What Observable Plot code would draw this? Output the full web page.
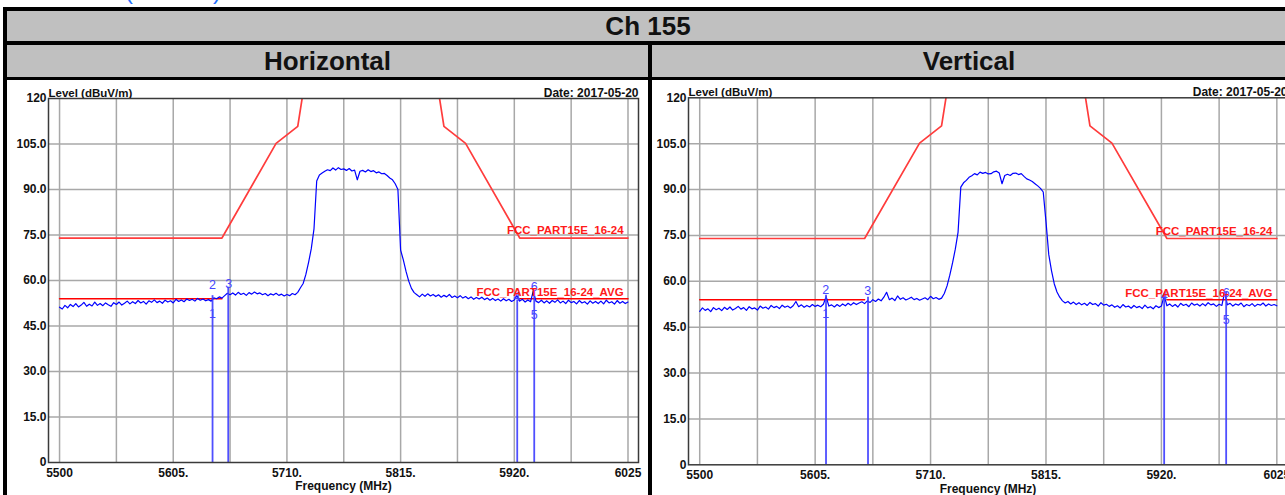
<!DOCTYPE html>
<html><head><meta charset="utf-8">
<script src="https://cdn.jsdelivr.net/npm/d3@7"></script>
<script src="https://cdn.jsdelivr.net/npm/@observablehq/plot@0.6"></script>
<style>
html,body{margin:0;padding:0;}
body{width:1285px;height:495px;overflow:hidden;position:relative;background:#fff;font-family:"Liberation Sans",Arial,Helvetica,sans-serif;}
.abs{position:absolute;}
.black{background:#000;}
.gray{background:#c0c0c0;display:flex;align-items:center;justify-content:center;font-weight:bold;font-size:26px;color:#111;}
.white{background:#fff;}
.paren{color:#1f6fff;font-size:24px;line-height:24px;top:-21px;}
</style></head><body>
<span class="abs paren" style="left:125px">(</span>
<span class="abs paren" style="left:213px">)</span>
<div class="abs black" style="left:3px;top:7px;width:1290px;height:500px"></div>
<div class="abs gray" style="left:7px;top:11px;width:1282px;height:30px">Ch 155</div>
<div class="abs gray" style="left:7px;top:45px;width:641px;height:32px">Horizontal</div>
<div class="abs gray" style="left:652px;top:45px;width:634px;height:32px">Vertical</div>
<div class="abs white" id="h" style="left:7px;top:80px;width:641px;height:420px"></div>
<div class="abs white" id="v" style="left:652px;top:80px;width:640px;height:420px"></div>
<script>
// ---- data ----
const freqStart = 5500;
const freqStep = 2.5;

// Horizontal polarization sweep (dBuV/m), 5500..6025 MHz in 2.5 MHz steps
const levelH = [
  51.2, 50.6, 51.8, 51.0, 52.1, 51.4, 52.4, 51.3, 51.9, 52.8,
  51.5, 52.2, 51.6, 52.9, 51.8, 52.4, 51.7, 52.6, 52.0, 51.5,
  52.7, 52.1, 52.9, 51.9, 52.5, 53.2, 52.3, 53.0, 52.4, 53.4,
  52.6, 53.1, 52.2, 53.3, 52.8, 53.6, 52.7, 53.2, 52.5, 53.5,
  52.9, 53.3, 52.6, 53.8, 53.1, 53.6, 53.0, 53.9, 53.4, 53.8,
  53.2, 54.1, 53.5, 53.9, 53.3, 53.7, 53.2, 54.3, 54.0, 54.6,
  54.2, 55.0, 55.8, 55.3, 55.9, 55.2, 56.1, 55.4, 55.8, 55.1,
  56.0, 55.5, 56.2, 55.6, 55.9, 55.3, 55.7, 55.0, 55.6, 55.2,
  55.8, 55.1, 55.5, 54.9, 55.4, 55.0, 55.7, 55.3, 56.1, 57.6,
  59.0, 62.0, 66.0, 70.5, 77.0, 92.8, 94.8, 95.4, 96.0, 96.5,
  96.2, 97.1, 96.4, 97.2, 96.6, 96.8, 96.3, 96.9, 96.1, 96.4,
  93.2, 96.0, 96.3, 95.8, 96.5, 95.9, 96.2, 95.5, 95.8, 95.2,
  95.3, 94.6, 93.8, 93.2, 91.9, 90.0, 70.0, 66.8, 63.0, 59.8,
  57.4, 56.0, 55.3, 54.6, 55.5, 54.8, 55.6, 54.9, 55.4, 54.7,
  55.3, 54.5, 55.1, 54.6, 55.4, 54.4, 54.9, 54.3, 55.0, 54.2,
  54.7, 54.0, 54.6, 53.8, 54.4, 53.9, 54.5, 53.7, 54.2, 53.5,
  54.1, 53.4, 53.9, 53.2, 54.0, 53.3, 53.8, 53.1, 53.6, 55.0,
  53.2, 53.8, 52.9, 53.6, 53.0, 56.5, 53.2, 52.7, 53.5, 52.6,
  53.3, 52.5, 53.4, 52.8, 53.6, 52.6, 53.2, 52.4, 53.5, 52.7,
  53.1, 52.3, 53.4, 52.6, 53.0, 52.2, 53.3, 52.5, 53.1, 52.4,
  53.2, 52.3, 53.5, 52.6, 53.0, 52.2, 53.4, 52.5, 53.1, 52.4,
  52.9
];

// Vertical polarization sweep (dBuV/m)
const levelV = [
  50.2, 51.3, 50.5, 51.0, 50.1, 51.4, 50.7, 51.2, 50.4, 51.5,
  50.8, 51.6, 50.6, 51.1, 51.8, 50.9, 51.4, 50.5, 51.7, 51.0,
  51.3, 50.6, 51.9, 51.2, 51.6, 50.9, 52.1, 51.4, 51.8, 51.1,
  52.2, 51.5, 51.9, 51.3, 52.0, 53.4, 51.7, 52.3, 51.5, 52.1,
  51.6, 52.4, 51.8, 52.2, 51.7, 52.5, 55.0, 51.9, 52.3, 51.6,
  52.4, 51.8, 52.6, 52.0, 52.8, 52.2, 53.0, 52.4, 52.9, 53.3,
  52.7, 53.6, 53.1, 54.0, 53.4, 54.2, 53.6, 54.8, 56.4, 54.0,
  54.5, 53.7, 55.2, 54.1, 54.6, 53.9, 54.3, 54.8, 54.0, 54.4,
  53.8, 54.2, 54.6, 54.0, 55.1, 54.3, 54.7, 54.1, 54.5, 56.0,
  58.5, 62.0, 66.0, 70.5, 76.0, 90.8, 92.2, 93.0, 94.0, 94.5,
  95.2, 94.8, 95.7, 95.3, 95.6, 95.1, 95.2, 95.8, 96.0, 95.4,
  91.9, 94.6, 95.0, 94.6, 95.3, 95.4, 94.9, 95.2, 94.3, 93.5,
  93.1, 92.6, 91.9, 91.2, 90.4, 89.2, 79.5, 68.8, 63.5, 59.2,
  56.5, 54.8, 53.6, 52.9, 53.4, 52.6, 53.2, 52.4, 53.0, 52.3,
  52.8, 52.1, 53.1, 52.4, 52.7, 51.9, 53.0, 52.2, 52.5, 51.8,
  52.3, 51.5, 52.0, 51.3, 52.4, 51.6, 51.9, 51.2, 52.1, 51.4,
  51.8, 51.1, 52.2, 51.3, 51.7, 51.0, 52.0, 51.4, 51.9, 55.4,
  52.0, 52.6, 51.8, 52.4, 51.6, 52.8, 52.1, 52.5, 51.7, 52.9,
  52.2, 52.6, 51.9, 52.7, 52.0, 53.0, 52.3, 52.6, 51.8, 52.5,
  52.1, 56.4, 52.3, 52.8, 51.9, 52.6, 52.2, 52.9, 51.7, 52.4,
  52.0, 52.7, 51.8, 52.5, 52.2, 52.9, 51.9, 52.6, 52.1, 52.4,
  52.0
];

// FCC limit masks
const limitFreq    = [5500, 5650, 5700, 5720, 5725, 5850, 5855, 5875, 5925, 6025];
const limitLevel   = [74, 74, 105.2, 110.8, 122.2, 122.2, 110.8, 105.2, 74, 74];
const limitSegment = ["a", "a", "a", "a", "a", "b", "b", "b", "b", "b"];
const avgFreq    = [5500, 5650, 5925, 6025];
const avgLevel   = [54, 54, 54, 54];
const avgSegment = ["a", "a", "b", "b"];
const limitLabelText  = ["FCC_PART15E_16-24", "FCC_PART15E_16-24_AVG"];
const limitLabelFreq  = [6021, 6021];
const limitLabelLevel = [76.4, 56.2];

// markers
const markerFreqH = [5641.3, 5655.8, 5922.7, 5938.4];
const markerTopH  = [55.0, 57.8, 53.6, 56.7];
const markerLabelText = ["1", "2", "3", "4", "5", "6"];
const markerLabelFreqH  = [5641.3, 5641.3, 5656.3, 5922.4, 5938.4, 5938.4];
const markerLabelLevelH = [49.0, 58.4, 58.9, 54.7, 48.5, 58.0];

const markerFreqV = [5614.9, 5653.1, 5922.5, 5978.9];
const markerTopV  = [55.4, 54.8, 55.4, 56.4];
const markerLabelFreqV  = [5614.7, 5614.7, 5652.9, 5922.5, 5978.9, 5978.9];
const markerLabelLevelV = [49.2, 57.0, 56.7, 55.1, 47.5, 56.3];

// axes
const xTickValues = [5500, 5605, 5710, 5815, 5920, 6025];
const xTickLabels = ["5500", "5605.", "5710.", "5815.", "5920.", "6025"];
const yTickValues = [0, 15, 30, 45, 60, 75, 90, 105, 120];
const yTickLabels = ["0", "15.0", "30.0", "45.0", "60.0", "75.0", "90.0", "105.0", "120"];
const xGridValues = [5500, 5552.5, 5605, 5657.5, 5710, 5762.5, 5815, 5867.5, 5920, 5972.5, 6025];
const yGridValues = [15, 30, 45, 60, 75, 90, 105];
const xDomain = [5489.8, 6034.7];
const yLabel = "Level (dBuV/m)";
const xLabel = "Frequency (MHz)";
const dateText = "Date: 2017-05-20";

// ---- drawing ----
const xFmt = new Map(xTickValues.map((v, i) => [v, xTickLabels[i]]));
const yFmt = new Map(yTickValues.map((v, i) => [v, yTickLabels[i]]));
const FONT = '"Liberation Sans", Arial, Helvetica, sans-serif';

function chart(o) {
  const trace = o.levels.map((v, i) => ({f: freqStart + i * freqStep, v}));
  const limit = limitFreq.map((f, i) => ({f, v: limitLevel[i], z: limitSegment[i]}));
  const avg = avgFreq.map((f, i) => ({f, v: avgLevel[i], z: avgSegment[i]}));
  const markers = o.markerFreq.map((f, i) => ({f, top: o.markerTop[i]}));
  const mlabels = markerLabelText.map((t, i) => ({t, f: o.labelFreq[i], v: o.labelLevel[i]}));
  const llabels = limitLabelText.map((t, i) => ({t, f: limitLabelFreq[i], v: limitLabelLevel[i]}));
  return Plot.plot({
    width: o.width, height: o.height,
    marginLeft: o.mL, marginRight: o.mR, marginTop: o.mT, marginBottom: o.mB,
    style: {fontFamily: FONT, fontSize: "12px", fontWeight: "bold", color: "#111", background: "#fff", overflow: "visible"},
    x: {domain: xDomain, ticks: xTickValues, tickFormat: d => xFmt.get(d), tickSize: 0, tickPadding: 6, label: null},
    y: {domain: [0, 120], ticks: yTickValues, tickFormat: d => yFmt.get(d), tickSize: 0, tickPadding: 2, label: null},
    marks: [
      Plot.ruleX(xGridValues, {stroke: "#a8a8a8", strokeWidth: 1.5}),
      Plot.ruleY(yGridValues, {stroke: "#a8a8a8", strokeWidth: 1.5}),
      Plot.line(limit, {x: "f", y: "v", z: "z", stroke: "#ff3c3c", strokeWidth: 1.7, clip: true}),
      Plot.line(avg, {x: "f", y: "v", z: "z", stroke: "#ff0000", strokeWidth: 1.5}),
      Plot.line(trace, {x: "f", y: "v", stroke: "#0000ff", strokeWidth: 1.2}),
      Plot.ruleX(markers, {x: "f", y1: 0, y2: "top", stroke: "#3c3cff", strokeWidth: 1.8, strokeOpacity: 0.9}),
      Plot.text(mlabels, {x: "f", y: "v", text: "t", fill: "#4646ff", fontSize: 12.5, fontWeight: "normal"}),
      Plot.text(llabels, {x: "f", y: "v", text: "t", textAnchor: "end", fill: "#ff1a1a", fontSize: 11.5, fontWeight: "bold"}),
      Plot.text([yLabel], {text: d => d, frameAnchor: "top-left", textAnchor: "start", lineAnchor: "bottom", dy: -2, fontSize: 11.5, fontWeight: "bold"}),
      Plot.text([dateText], {text: d => d, frameAnchor: "top-right", textAnchor: "end", lineAnchor: "bottom", dy: -2, fontSize: 12, fontWeight: "bold"}),
      Plot.text([xLabel], {text: d => d, frameAnchor: "bottom", textAnchor: "middle", dy: o.xLabelDy, fontSize: 12, fontWeight: "bold"}),
      Plot.frame({stroke: "#3a3a3a", strokeWidth: 1.5})
    ]
  });
}

document.getElementById("h").appendChild(chart({
  levels: levelH, markerFreq: markerFreqH, markerTop: markerTopH,
  labelFreq: markerLabelFreqH, labelLevel: markerLabelLevelH,
  width: 641, height: 415, mL: 41, mR: 10, mT: 18, mB: 33, xLabelDy: 27.5
}));
document.getElementById("v").appendChild(chart({
  levels: levelV, markerFreq: markerFreqV, markerTop: markerTopV,
  labelFreq: markerLabelFreqV, labelLevel: markerLabelLevelV,
  width: 640, height: 415, mL: 36, mR: 5, mT: 17.3, mB: 30.7, xLabelDy: 28
}));
</script>
</body></html>
